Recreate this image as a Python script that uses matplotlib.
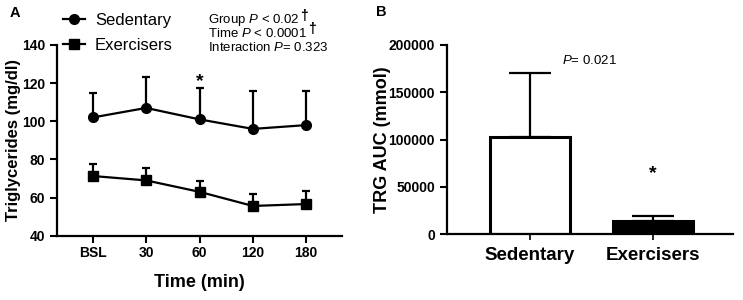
import numpy as np
import matplotlib
matplotlib.use("Agg")
import matplotlib.pyplot as plt

plt.rcParams['font.family'] = ['Liberation Sans', 'DejaVu Sans']
plt.rcParams['mathtext.fontset'] = 'custom'
plt.rcParams['mathtext.rm'] = 'Liberation Sans'
plt.rcParams['mathtext.it'] = 'Liberation Sans:italic'

# Panel A data: triglycerides over time
time_labels = ["BSL", "30", "60", "120", "180"]
sedentary_mean = [102, 107, 101, 96, 98]
sedentary_err = [13, 16, 16.5, 20, 18]
exercisers_mean = [71.3, 69, 63, 55.6, 56.6]
exercisers_err = [6.3, 6.5, 5.7, 6.1, 6.8]

# Panel B data: TRG AUC
groups = ["Sedentary", "Exercisers"]
auc_mean = [103000, 14000]
auc_err = [67000, 5500]

fig = plt.figure(figsize=(7.43, 3.0), dpi=100)

# ---- Panel A ----
axA = fig.add_axes([57/743, 1-235.7/300, (342-57)/743, (235.7-45)/300])
x = np.arange(len(time_labels))
axA.errorbar(x, sedentary_mean, yerr=[np.zeros(5), sedentary_err], color='black',
             marker='o', markersize=7, linewidth=1.6, elinewidth=1.6, capsize=2.8,
             capthick=1.6, label="Sedentary")
axA.errorbar(x, exercisers_mean, yerr=[np.zeros(5), exercisers_err], color='black',
             marker='s', markersize=7, linewidth=1.6, elinewidth=1.6, capsize=2.8,
             capthick=1.6, label="Exercisers")
axA.set_xlim(-0.67, 4.67)
axA.set_ylim(40, 140)
axA.set_yticks([40, 60, 80, 100, 120, 140])
axA.set_xticks(x)
axA.set_xticklabels(time_labels)
for s in ['top', 'right']:
    axA.spines[s].set_visible(False)
for s in ['left', 'bottom']:
    axA.spines[s].set_linewidth(1.6)
axA.tick_params(width=1.5, length=5, labelsize=10)
axA.tick_params(axis='x', pad=2.5)
for lab in axA.get_xticklabels() + axA.get_yticklabels():
    lab.set_fontweight('bold')
axA.set_xlabel("Time (min)", fontsize=13, fontweight='bold', labelpad=10)
axA.set_ylabel("Triglycerides (mg/dl)", fontsize=12, fontweight='bold', labelpad=1)
axA.text(2, 121, "*", ha='center', va='center', fontsize=14, fontweight='bold')

# legend (no error bars shown)
hs, ls = axA.get_legend_handles_labels()
axA.legend([h[0] for h in hs], ls, loc='upper left', bbox_to_anchor=(-0.03, 1.245),
           frameon=False, fontsize=12, handlelength=1.3, handletextpad=0.6,
           labelspacing=0.6)

fig.text(208/743, 1-20/300, "Group $P$ < 0.02", fontsize=9.5, va='center')
fig.text(208/743, 1-33.5/300, "Time $P$ < 0.0001", fontsize=9.5, va='center')
fig.text(208/743, 1-47/300, "Interaction $P$= 0.323", fontsize=9.5, va='center')
fig.text(300/743, 1-16/300, "\u2020", fontsize=10, fontweight='bold', va='center')
fig.text(308/743, 1-29.5/300, "\u2020", fontsize=10, fontweight='bold', va='center')
fig.text(10/743, 1-13/300, "A", fontsize=10.5, fontweight='bold', va='center')

# ---- Panel B ----
axB = fig.add_axes([446.7/743, 1-234/300, (733-446.7)/743, (234-45)/300])
xb = np.arange(len(groups))
axB.bar(xb, auc_mean, width=0.65, color=['white', 'black'], edgecolor='black',
        linewidth=2.2, zorder=2)
axB.errorbar(xb, auc_mean, yerr=[np.zeros(2), auc_err], fmt='none', ecolor='black',
             elinewidth=1.6, capsize=15, capthick=1.6, zorder=1)
axB.set_xlim(-0.68, 1.655)
axB.set_ylim(0, 200000)
axB.set_yticks([0, 50000, 100000, 150000, 200000])
axB.set_xticks(xb)
axB.set_xticklabels(groups)
for s in ['top', 'right']:
    axB.spines[s].set_visible(False)
for s in ['left', 'bottom']:
    axB.spines[s].set_linewidth(1.6)
axB.tick_params(axis='y', width=1.5, length=5, labelsize=10)
axB.tick_params(axis='x', width=1.2, length=4, labelsize=13.5, pad=5)
for lab in axB.get_xticklabels() + axB.get_yticklabels():
    lab.set_fontweight('bold')
axB.set_ylabel("TRG AUC (mmol)", fontsize=13, fontweight='bold', labelpad=-2)
axB.text(1, 63500, "*", ha='center', va='center', fontsize=14, fontweight='bold')
fig.text(562/743, 1-61/300, "$P$= 0.021", fontsize=9.5, va='center')
fig.text(376/743, 1-12/300, "B", fontsize=10.5, fontweight='bold', va='center')

fig.savefig("out.png", dpi=100)
